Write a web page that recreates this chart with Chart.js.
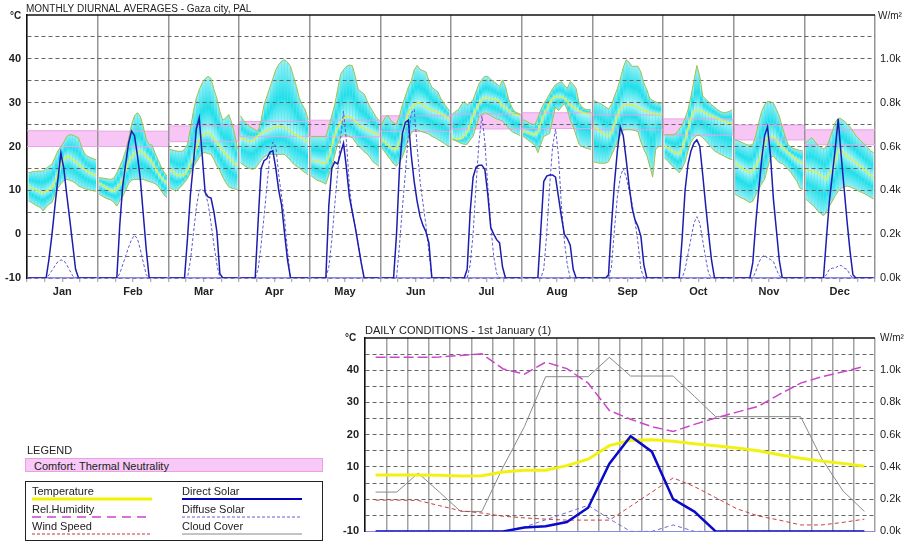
<!DOCTYPE html>
<html>
<head>
<meta charset="utf-8">
<script src="https://cdn.jsdelivr.net/npm/chart.js@4.4.1/dist/chart.umd.min.js"></script>
<style>
  body { margin: 0; background: #fff; font-family: "Liberation Sans", Arial, sans-serif; color: #222; }
  canvas { position: absolute; left: 0; }
  #monthly { top: 0; }
  #daily { top: 300px; }
  .lg-title { position: absolute; left: 27px; top: 444px; font-size: 11px; }
  .lg-comfort { position: absolute; left: 25px; top: 458px; width: 298px; height: 14px; background: #f8c8f6; border: 1px solid #e6a2e2; font-size: 11px; line-height: 14px; padding-left: 8px; box-sizing: border-box; }
  .lg-box { position: absolute; left: 25px; top: 481px; width: 298px; height: 60px; border: 1px solid #222; box-sizing: border-box; }
  .lg-item { position: absolute; font-size: 11px; }
  .lg-item svg { position: absolute; left: 0; }
</style>
</head>
<body>
<canvas id="monthly" width="905" height="300"></canvas>
<canvas id="daily" width="905" height="244"></canvas>

<div class="lg-title">LEGEND</div>
<div class="lg-comfort">Comfort: Thermal Neutrality</div>
<div class="lg-box">
  <div class="lg-item" style="left:6px;top:3px">Temperature
    <svg width="120" height="4" style="top:12px"><line x1="0" y1="2" x2="120" y2="2" stroke="#f2f200" stroke-width="3"/></svg></div>
  <div class="lg-item" style="left:156px;top:3px">Direct Solar
    <svg width="120" height="4" style="top:12px"><line x1="0" y1="2" x2="120" y2="2" stroke="#0000c0" stroke-width="2"/></svg></div>
  <div class="lg-item" style="left:6px;top:21px">Rel.Humidity
    <svg width="120" height="4" style="top:12px"><line x1="0" y1="2" x2="120" y2="2" stroke="#cc44cc" stroke-width="1.5" stroke-dasharray="9,6"/></svg></div>
  <div class="lg-item" style="left:156px;top:21px">Diffuse Solar
    <svg width="120" height="4" style="top:12px"><line x1="0" y1="2" x2="120" y2="2" stroke="#6262d4" stroke-width="1" stroke-dasharray="3,2"/></svg></div>
  <div class="lg-item" style="left:6px;top:38px">Wind Speed
    <svg width="120" height="4" style="top:12px"><line x1="0" y1="2" x2="120" y2="2" stroke="#d03030" stroke-width="1" stroke-dasharray="3,2"/></svg></div>
  <div class="lg-item" style="left:156px;top:38px">Cloud Cover
    <svg width="120" height="4" style="top:12px"><line x1="0" y1="2" x2="120" y2="2" stroke="#888" stroke-width="1"/></svg></div>
</div>

<script>
// ---- monthly diurnal averages (24 hourly values per month) ----
const months = ['Jan', 'Feb', 'Mar', 'Apr', 'May', 'Jun', 'Jul', 'Aug', 'Sep', 'Oct', 'Nov', 'Dec'];

const comfortLow  = [20.0, 20.0, 21.1, 22.3, 22.2, 23.4, 24.0, 24.1, 23.8, 22.6, 21.5, 20.4];
const comfortHigh = [23.6, 23.5, 24.7, 25.7, 26.0, 27.0, 27.4, 27.7, 27.2, 26.3, 24.9, 23.8];

const tempMax = [
  [14, 14.2, 14.3, 14.4, 14.4, 14.4, 15, 15.5, 16, 17.5, 19, 20, 21, 22.3, 22.7, 22.6, 22.3, 22, 20, 18.5, 17.8, 17.5, 17.2, 17],
  [12.9, 12.8, 12.7, 12.6, 12.5, 12.8, 14, 15.5, 17, 19, 21.6, 25, 27, 27.7, 26.9, 24.5, 21.6, 20.5, 20.3, 18.5, 17, 15.5, 14.2, 13.3],
  [19.3, 19.2, 19, 18.9, 18.9, 19.3, 20.5, 24, 28, 31, 33, 34.5, 35.5, 36, 35.5, 33, 31, 28, 26, 26.5, 27.3, 25.5, 23, 19.5],
  [27, 26, 25.2, 24.6, 24.2, 23.8, 23.5, 26, 29.5, 31.5, 33.5, 35.5, 37.5, 38.7, 39.5, 39.8, 39.2, 38.3, 36, 33.7, 31, 29.5, 28.4, 26.1],
  [22.3, 22.3, 22.3, 22.3, 22.3, 22.3, 24.5, 27, 29.5, 33, 36.5, 37.5, 38.3, 38.6, 38.4, 36, 33, 32.5, 32, 30.5, 29, 28, 26.8, 26],
  [25, 26.5, 27.2, 26, 25.4, 25, 27, 29.5, 31.5, 33.5, 35, 37.5, 38.5, 37.6, 37.3, 37, 35, 33.5, 33, 32.5, 31, 30, 29, 28.2],
  [27.4, 28, 28.4, 29.5, 30.3, 29.5, 30, 30.7, 32.5, 34.3, 35.3, 36, 36, 35.3, 34.8, 34.3, 33.7, 35.2, 33.7, 31, 29.2, 28, 27.7, 27.3],
  [26.1, 25.8, 25.4, 25.1, 25, 26.5, 28.4, 29.8, 30.8, 32, 33.2, 34.1, 34.5, 34.8, 34, 33.3, 34.8, 34.2, 33.2, 30, 29, 28.5, 28.4, 28.4],
  [30.5, 30.2, 29.9, 29.5, 29, 28.6, 29.5, 31.5, 33.2, 35.5, 38, 39.8, 39.2, 38.3, 38.3, 38.3, 37, 34.5, 33, 31, 30.5, 30.2, 29.9, 29.9],
  [22.7, 22.7, 22.7, 22.7, 23, 24, 24.8, 26.5, 28.4, 31.5, 35, 38.5, 36, 31.5, 30.8, 30.2, 29.5, 29, 28.4, 28, 27.7, 27.8, 28, 28.4],
  [21.6, 21.3, 21, 20.7, 20.4, 20.3, 20.5, 22.5, 25.5, 28, 29.5, 30.3, 30.2, 29.9, 28.5, 26.9, 24.5, 22.3, 20.5, 19.8, 19.5, 19.3, 19.1, 19],
  [20.8, 21.5, 22, 21.2, 20.3, 19.8, 19.5, 19.8, 21.5, 23.5, 25.5, 26.5, 26.3, 25.8, 25.2, 24.5, 23.5, 22.5, 21.8, 21, 20.5, 19.8, 19, 18.6]
];

const tempAvg = [
  [11, 10.6, 10.2, 9.9, 9.6, 9.5, 9.8, 10.2, 10.6, 12, 14, 16, 17, 17.8, 17.6, 17, 16.5, 16, 15.5, 14.8, 14.3, 13.9, 13.6, 13.3],
  [11.7, 11.2, 10.8, 10.3, 10, 9.8, 10.5, 11.2, 12.5, 14.5, 16.5, 17.6, 18.3, 18.7, 18.9, 18.5, 17.8, 17.2, 16.3, 15.2, 14, 13, 12.3, 11.7],
  [14.8, 14.2, 13.7, 13.4, 13.3, 13.6, 14.5, 16, 17.5, 19.5, 21.5, 22.5, 23, 23, 22.8, 21.8, 21, 20, 19, 18.3, 17.5, 16.8, 16, 15.5],
  [22, 21.7, 21.4, 21.2, 21.2, 21.8, 22.5, 23, 23.3, 23.6, 23.9, 24.2, 24.5, 24.6, 24.5, 24.3, 24, 23.5, 23, 22.5, 22.3, 22, 21.5, 21],
  [17, 16.8, 16.6, 16.4, 16.2, 16.3, 17.5, 20, 22.5, 24.2, 25.5, 26.3, 26.9, 26.8, 26.5, 25.8, 25, 24.5, 24.2, 23.8, 23.5, 23.2, 22.9, 22.7],
  [21.6, 21, 20.4, 19.8, 19.5, 19.3, 21, 23, 25.5, 27.5, 29, 29.5, 29.8, 29.9, 29.5, 29, 28.6, 28.2, 28, 27.8, 27.5, 27.2, 26.7, 26.2],
  [22, 21.8, 21.6, 21.8, 22.5, 23.1, 25, 27, 28.4, 29.8, 30.8, 31.1, 31, 30.9, 30.8, 30.7, 30.2, 29.2, 28.8, 28.3, 27.8, 27.3, 27.2, 27],
  [23.5, 23.3, 23.1, 22.9, 22.7, 23.3, 25.5, 27.2, 28.5, 30, 31, 31.4, 31.4, 31.4, 31, 30.2, 29.5, 29, 28.6, 28.1, 27.8, 27.6, 27.4, 27.3],
  [24.5, 24, 23.5, 23, 22.6, 22.4, 23, 25, 27, 28.5, 29.3, 29.6, 29.6, 29.5, 29.3, 29, 28.5, 28.2, 28, 27.8, 27.6, 27.4, 27.3, 27.2],
  [20.2, 19.8, 19.3, 18.8, 18.4, 18.2, 19.5, 21.5, 24, 26.5, 28, 28.5, 28.3, 28, 27.6, 27.3, 27, 26.7, 26.4, 26.1, 25.8, 25.6, 25.4, 25.2],
  [16.3, 15.8, 15.3, 14.8, 14.4, 14, 14.5, 15.5, 16.8, 18.5, 20.5, 22, 22.3, 22.3, 21.5, 20.4, 19.8, 19.2, 18.6, 18, 17.5, 17, 16.5, 16.2],
  [14.8, 14.6, 14.4, 14.2, 14, 13.5, 13, 12.5, 13.8, 14.8, 16.5, 19, 19.3, 18.5, 17.8, 17.3, 16.8, 16.3, 15.8, 15.2, 14.6, 14, 13.5, 12.9]
];

const tempMin = [
  [7.6, 7.2, 6.8, 6.4, 6.1, 5.3, 6.2, 6.8, 7.2, 9, 10.5, 11.5, 12.2, 12.5, 12.3, 12, 11.6, 11, 10.7, 10.4, 10.2, 10, 9.9, 9.8],
  [9.1, 8.7, 8.3, 8, 7.8, 7.3, 6.4, 7.6, 8.6, 10, 11.5, 12.3, 12.5, 12.5, 12.5, 12.5, 12.2, 12, 11.8, 11.5, 11, 10, 9, 8.3],
  [10.6, 10.2, 9.8, 10.3, 11, 11.8, 12.7, 14, 15.3, 16.4, 17.5, 18.5, 18.6, 18.4, 18.2, 17, 15.5, 14.5, 13, 11.8, 10.8, 10.5, 10.3, 10.2],
  [16.3, 15.8, 15.3, 15, 14.8, 15, 15.9, 16.8, 17.6, 18, 18.2, 18.2, 18.2, 18.2, 18.2, 18.2, 17.5, 16.8, 16, 15.5, 15, 14.5, 14, 13.5],
  [13.3, 12.8, 12.3, 12.1, 11.8, 11.4, 13.5, 15.5, 18, 20.5, 22, 22.7, 22.5, 22.3, 22, 21, 20.1, 19.5, 18.8, 18.3, 17.5, 16.5, 16, 15.5],
  [19.7, 18.8, 17.8, 17, 16, 15.5, 16.5, 17.6, 19.5, 21.8, 23, 23.8, 23.8, 23.5, 23.3, 23.1, 22.8, 22.3, 22, 21.6, 21.2, 20.8, 20.3, 20],
  [21.6, 21.3, 21, 20.7, 20.5, 20.5, 21.5, 22.3, 24.5, 26.7, 27.3, 27.7, 27.5, 27, 26.6, 26.3, 26.1, 25.8, 25, 24.3, 23.5, 23.1, 22.8, 22.5],
  [22.3, 21.8, 21.3, 20.8, 20.2, 18.6, 20.5, 22.3, 22.6, 23, 26, 29, 28.2, 29, 29.8, 28.4, 26, 24.5, 22.5, 20.5, 20, 19.7, 19.5, 19.3],
  [16.5, 16.3, 16.2, 16.2, 16.2, 16.5, 18, 19.5, 21, 22.5, 23.7, 23.9, 23.9, 23.8, 23.6, 23.4, 21, 19.3, 18, 15.5, 13, 19.3, 20, 20.1],
  [17.4, 16.8, 16, 15.3, 14.7, 14, 15, 16.5, 19, 21, 22, 22.5, 22.5, 22, 21.3, 20.5, 19.7, 19, 18.6, 18.2, 17.9, 17.5, 17.2, 17],
  [9.1, 8.7, 8.3, 8, 7.6, 7.2, 7.5, 9, 10.2, 11.5, 12.5, 15, 17.5, 17.8, 17, 16.3, 16.1, 15.5, 14.8, 14, 13, 12, 10.5, 10.2],
  [8, 7.4, 6.8, 6.2, 5.3, 4.8, 4.2, 5, 6.4, 7.5, 8.8, 9.8, 10.4, 10.8, 11, 10.8, 10.5, 10.2, 9.8, 9.5, 9.2, 8.8, 8.4, 8]
];

// W/m2
const directSolar = [
  [0, 0, 0, 0, 0, 0, 0, 90, 200, 330, 450, 570, 500, 380, 270, 155, 40, 0, 0, 0, 0, 0, 0, 0],
  [0, 0, 0, 0, 0, 0, 0, 240, 420, 520, 615, 670, 650, 560, 450, 290, 130, 0, 0, 0, 0, 0, 0, 0],
  [0, 0, 0, 0, 0, 0, 180, 380, 520, 680, 730, 560, 390, 370, 365, 300, 210, 20, 0, 0, 0, 0, 0, 0],
  [0, 0, 0, 0, 0, 0, 260, 500, 535, 545, 575, 580, 500, 400, 330, 200, 80, 0, 0, 0, 0, 0, 0, 0],
  [0, 0, 0, 0, 0, 0, 330, 500, 530, 520, 570, 615, 500, 370, 300, 230, 150, 70, 0, 0, 0, 0, 0, 0],
  [0, 0, 0, 0, 0, 200, 500, 660, 710, 720, 560, 440, 350, 280, 240, 210, 160, 0, 0, 0, 0, 0, 0, 0],
  [0, 0, 0, 0, 0, 40, 300, 460, 505, 515, 515, 495, 380, 230, 200, 175, 160, 50, 0, 0, 0, 0, 0, 0],
  [0, 0, 0, 0, 0, 0, 220, 440, 465, 470, 470, 460, 370, 280, 200, 180, 150, 40, 0, 0, 0, 0, 0, 0],
  [0, 0, 0, 0, 0, 15, 240, 430, 580, 690, 650, 540, 420, 320, 265, 235, 190, 60, 0, 0, 0, 0, 0, 0],
  [0, 0, 0, 0, 0, 0, 180, 400, 520, 580, 615, 630, 600, 470, 330, 200, 80, 0, 0, 0, 0, 0, 0, 0],
  [0, 0, 0, 0, 0, 0, 70, 250, 400, 540, 650, 690, 560, 360, 220, 80, 0, 0, 0, 0, 0, 0, 0, 0],
  [0, 0, 0, 0, 0, 0, 0, 180, 350, 470, 590, 725, 560, 410, 260, 125, 15, 0, 0, 0, 0, 0, 0, 0]
];

const diffuseSolar = [
  [0, 0, 0, 0, 0, 0, 0, 15, 35, 55, 75, 82, 80, 60, 35, 10, 0, 0, 0, 0, 0, 0, 0, 0],
  [0, 0, 0, 0, 0, 0, 0, 20, 60, 100, 140, 175, 195, 180, 130, 70, 15, 0, 0, 0, 0, 0, 0, 0],
  [0, 0, 0, 0, 0, 0, 0, 80, 200, 320, 400, 405, 390, 340, 250, 150, 60, 0, 0, 0, 0, 0, 0, 0],
  [0, 0, 0, 0, 0, 0, 40, 150, 280, 420, 560, 620, 600, 470, 370, 270, 120, 0, 0, 0, 0, 0, 0, 0],
  [0, 0, 0, 0, 0, 0, 50, 170, 330, 480, 640, 760, 620, 420, 300, 230, 160, 70, 0, 0, 0, 0, 0, 0],
  [0, 0, 0, 0, 0, 0, 150, 320, 480, 650, 750, 770, 600, 440, 340, 240, 120, 0, 0, 0, 0, 0, 0, 0],
  [0, 0, 0, 0, 0, 0, 60, 200, 420, 620, 740, 620, 420, 240, 100, 20, 0, 0, 0, 0, 0, 0, 0, 0],
  [0, 0, 0, 0, 0, 0, 0, 40, 200, 420, 600, 680, 560, 330, 170, 60, 0, 0, 0, 0, 0, 0, 0, 0],
  [0, 0, 0, 0, 0, 0, 50, 220, 370, 460, 500, 460, 400, 340, 260, 160, 40, 0, 0, 0, 0, 0, 0, 0],
  [0, 0, 0, 0, 0, 0, 0, 40, 110, 180, 250, 280, 250, 170, 90, 20, 0, 0, 0, 0, 0, 0, 0, 0],
  [0, 0, 0, 0, 0, 0, 0, 30, 70, 95, 105, 90, 85, 75, 40, 10, 0, 0, 0, 0, 0, 0, 0, 0],
  [0, 0, 0, 0, 0, 0, 0, 15, 40, 45, 45, 55, 58, 45, 40, 15, 0, 0, 0, 0, 0, 0, 0, 0]
];

// ---- daily conditions, 1st January (hour 0..23) ----
const dayTemp     = [7.5, 7.5, 7.5, 7.4, 7.2, 7.3, 8.4, 9.0, 9.0, 10.4, 12.4, 16.6, 18.3, 18.4, 18.0, 17.2, 16.6, 15.9, 15.0, 13.8, 12.7, 11.8, 11.1, 10.2];
const dayHumidity = [44, 44, 44, 44.1, 44.6, 45.1, 40.4, 38.8, 42.5, 40.5, 36, 27.5, 24.8, 22.5, 21, 23.2, 25.2, 27, 28.8, 32.5, 36, 38, 39.5, 41.2];
const dayWind     = [-0.3, -0.3, -0.4, -2.0, -3.6, -4.3, -5.3, -5.8, -6.2, -6.5, -6.5, -6.5, -2.2, 2.2, 6.6, 3.9, 0.5, -3.0, -5.2, -6.5, -8.0, -8.0, -7.2, -6.2];
const dayCloud    = [2.2, 2.2, 8.1, 2.2, -3.8, -3.8, 10, 22.5, 38, 38, 38, 44, 38.2, 38.2, 38.2, 31.9, 25.6, 25.6, 25.6, 25.6, 25.6, 12.5, 2.5, -3.8];
const dayDirect   = [0, 0, 0, 0, 0, 0, 0, 24, 32, 58, 147, 420, 590, 495, 200, 123, 0, 0, 0, 0, 0, 0, 0, 0];
const dayDiffuse  = [0, 0, 0, 0, 0, 0, 0, 27, 72, 117, 162, 78, 0, 0, 40, 0, 0, 0, 0, 0, 0, 0, 0, 0];

const tempTicks = [-10, -5, 0, 5, 10, 15, 20, 25, 30, 35, 40, 45, 50];
const solarTicks = [0, 200, 400, 600, 800, 1000];

// one segment per month, broken at the month boundary
function monthPoints(rows) {
  const pts = [];
  rows.forEach((row, m) => {
    row.forEach((v, h) => pts.push({ x: m * 24 + h + 0.5, y: v }));
    pts.push({ x: m * 24 + 24, y: null });
  });
  return pts;
}

function comfortPoints(vals) {
  const pts = [];
  vals.forEach((v, m) => {
    pts.push({ x: m * 24, y: v }, { x: m * 24 + 24, y: v }, { x: m * 24 + 24, y: null });
  });
  return pts;
}

function hourPoints(vals) {
  return vals.map((v, h) => ({ x: h + 0.5, y: v }));
}

const maxPts = monthPoints(tempMax);
const avgPts = monthPoints(tempAvg);
const minPts = monthPoints(tempMin);

// band shading: pale at the extremes and along the mean, strong cyan between
function bandFill(c) {
  const y = c.chart.scales.y;
  const i0 = c.p0DataIndex, i1 = c.p1DataIndex;
  const top = (c.p0.y + c.p1.y) / 2;
  const mid = (y.getPixelForValue(avgPts[i0].y) + y.getPixelForValue(avgPts[i1].y)) / 2;
  const bot = (y.getPixelForValue(minPts[i0].y) + y.getPixelForValue(minPts[i1].y)) / 2;
  const g = c.chart.ctx.createLinearGradient(0, top, 0, bot);
  const t = Math.min(0.95, Math.max(0.05, (mid - top) / Math.max(1, bot - top)));
  g.addColorStop(0, '#9beff5');
  g.addColorStop(t * 0.55, '#1ddfea');
  g.addColorStop(t, '#b4f6f8');
  g.addColorStop(t + (1 - t) * 0.45, '#1ddfea');
  g.addColorStop(1, '#9beff5');
  return g;
}

const FONT = '"Liberation Sans", Arial, sans-serif';

function textPlugin(items) {
  return {
    id: 'texts',
    afterDraw(chart) {
      const ctx = chart.ctx;
      const a = chart.chartArea;
      ctx.save();
      // top frame line
      ctx.strokeStyle = '#111';
      ctx.lineWidth = 1.5;
      ctx.beginPath();
      ctx.moveTo(a.left, a.top);
      ctx.lineTo(a.right, a.top);
      ctx.stroke();
      ctx.fillStyle = '#222';
      items.forEach(t => {
        ctx.font = t.font;
        ctx.textAlign = t.align || 'left';
        ctx.fillText(t.text, t.x, t.y);
      });
      ctx.restore();
    }
  };
}

function yScales(leftWidth, rightWidth) {
  return {
    y: {
      min: -10, max: 50,
      afterBuildTicks: s => { s.ticks = tempTicks.map(v => ({ value: v })); },
      afterFit: s => { s.width = leftWidth; },
      ticks: {
        padding: 6,
        color: '#222',
        font: { family: FONT, size: 11, weight: 'bold' },
        callback: v => (v % 10 === 0 && v < 50) ? v : ''
      },
      grid: {
        drawTicks: false,
        color: c => (c.tick && c.tick.value === 50) ? 'transparent' : '#666',
        lineWidth: 1
      },
      border: { display: true, color: '#111', width: 1.5, dash: [4, 3] }
    },
    y2: {
      position: 'right',
      min: 0, max: 1200,
      afterBuildTicks: s => { s.ticks = solarTicks.map(v => ({ value: v })); },
      afterFit: s => { s.width = rightWidth; },
      ticks: {
        padding: 5,
        color: '#222',
        font: { family: FONT, size: 11 },
        callback: v => (v / 1000).toFixed(1) + 'k'
      },
      grid: { display: false, drawTicks: false },
      border: { display: false }
    }
  };
}

// ---------------- top chart ----------------
new Chart(document.getElementById('monthly'), {
  type: 'line',
  data: {
    datasets: [
      { data: monthPoints(directSolar), yAxisID: 'y2', borderColor: '#1c1cb0', borderWidth: 1.5 },
      { data: monthPoints(diffuseSolar), yAxisID: 'y2', borderColor: '#5c5cd0', borderWidth: 1, borderDash: [3, 2] },
      { data: avgPts, borderColor: '#d6ee56', borderWidth: 1.5 },
      {
        data: maxPts, borderColor: '#a6c24c', borderWidth: 1, fill: '+1', backgroundColor: '#3fe2ec',
        segment: { backgroundColor: bandFill, borderDashOffset: c => c.p0DataIndex * 0.001 }
      },
      { data: minPts, borderColor: '#a6c24c', borderWidth: 1 },
      // plain layer under the shaded band so the hour seams do not show white
      { data: maxPts, borderWidth: 0, fill: 4, backgroundColor: '#52e4ee' },
      { data: comfortPoints(comfortHigh), borderColor: '#e8a4e8', borderWidth: 1, fill: '+1', backgroundColor: '#f8c6f5' },
      { data: comfortPoints(comfortLow), borderColor: '#e8a4e8', borderWidth: 1 }
    ]
  },
  options: {
    responsive: false,
    animation: false,
    spanGaps: false,
    layout: { padding: { top: 15, left: 0, right: 0, bottom: 0 } },
    elements: { point: { radius: 0 }, line: { tension: 0 } },
    plugins: {
      legend: { display: false },
      tooltip: { enabled: false },
      filler: { drawTime: 'beforeDraw' }
    },
    scales: Object.assign({
      x: {
        type: 'linear',
        min: 0, max: 288,
        afterBuildTicks: s => { s.ticks = Array.from({ length: 49 }, (_, i) => ({ value: i * 6 })); },
        afterFit: s => { s.height = 22; },
        ticks: {
          autoSkip: false,
          maxRotation: 0,
          padding: 3,
          color: '#222',
          font: { family: FONT, size: 11, weight: 'bold' },
          callback: v => (v % 24 === 12) ? months[(v - 12) / 24] : ''
        },
        grid: {
          color: c => (c.tick && c.tick.value % 24 === 0) ? '#949494' : 'transparent',
          lineWidth: 1.5,
          tickColor: '#999',
          tickLength: 4,
          tickWidth: 1
        },
        border: { display: true, color: '#8a8ae6', width: 1.5 }
      }
    }, yScales(27, 30))
  },
  plugins: [textPlugin([
    { text: 'MONTHLY DIURNAL AVERAGES - Gaza city, PAL', x: 26, y: 12, font: '10px ' + FONT },
    { text: '°C', x: 10, y: 19, font: 'bold 10px ' + FONT },
    { text: 'W/m²', x: 878, y: 19, font: '10px ' + FONT }
  ])]
});

// ---------------- bottom chart ----------------
new Chart(document.getElementById('daily'), {
  type: 'line',
  data: {
    datasets: [
      { data: hourPoints(dayDirect), yAxisID: 'y2', borderColor: '#0a0ac8', borderWidth: 2.5 },
      { data: hourPoints(dayTemp), borderColor: '#f2f212', borderWidth: 3 },
      { data: hourPoints(dayHumidity), borderColor: '#cc44cc', borderWidth: 1.5, borderDash: [10, 4] },
      { data: hourPoints(dayDiffuse), yAxisID: 'y2', borderColor: '#6a6ad6', borderWidth: 1, borderDash: [4, 3] },
      { data: hourPoints(dayWind), borderColor: '#c83c3c', borderWidth: 1, borderDash: [4, 3] },
      { data: hourPoints(dayCloud), borderColor: '#8a8a8a', borderWidth: 1 }
    ]
  },
  options: {
    responsive: false,
    animation: false,
    layout: { padding: { top: 38, left: 0, right: 0, bottom: 0 } },
    elements: { point: { radius: 0 }, line: { tension: 0 } },
    plugins: { legend: { display: false }, tooltip: { enabled: false } },
    scales: Object.assign({
      x: {
        type: 'linear',
        min: 0, max: 24,
        afterBuildTicks: s => { s.ticks = Array.from({ length: 25 }, (_, i) => ({ value: i })); },
        afterFit: s => { s.height = 3; },
        ticks: { display: false },
        grid: { color: '#a2a2a2', lineWidth: 1.5, drawTicks: false },
        border: { display: true, color: '#8a8ae6', width: 1 }
      }
    }, yScales(365, 30))
  },
  plugins: [textPlugin([
    { text: 'DAILY CONDITIONS - 1st January (1)', x: 365, y: 34, font: '11px ' + FONT },
    { text: '°C', x: 345, y: 41, font: 'bold 10px ' + FONT },
    { text: 'W/m²', x: 880, y: 41, font: '10px ' + FONT }
  ])]
});
</script>
</body>
</html>
